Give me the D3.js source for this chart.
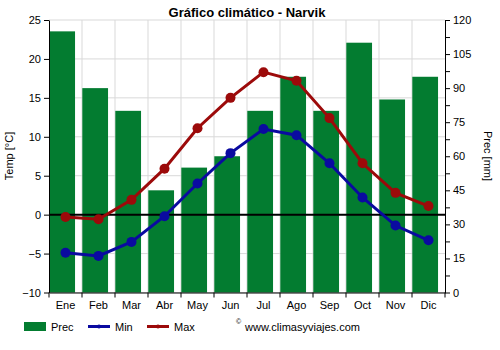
<!DOCTYPE html>
<html><head><meta charset="utf-8">
<script src="https://cdn.jsdelivr.net/npm/d3@7"></script>
<style>body{margin:0;background:#fff;font-family:"Liberation Sans",Arial,sans-serif;}</style>
</head><body><svg id="c" width="500" height="350"></svg>
<script>
const months = ["Ene","Feb","Mar","Abr","May","Jun","Jul","Ago","Sep","Oct","Nov","Dic"];
const prec = [115,90,80,45,55,60,80,95,80,110,85,95];
const tmin = [-4.9,-5.3,-3.5,-0.2,4.0,7.9,11.0,10.2,6.6,2.2,-1.4,-3.3];
const tmax = [-0.3,-0.6,1.9,5.9,11.1,15.0,18.3,17.2,12.4,6.6,2.8,1.1];
const tempTicks = [-10,-5,0,5,10,15,20,25];
const precTicks = [0,15,30,45,60,75,90,105,120];

const svg = d3.select("#c");
const L=49, R=445, T=20, B=292.5;
const x = d3.scaleBand().domain(months).range([L,R]).paddingInner(0.2).paddingOuter(0.1);
const xb = d3.scaleBand().domain(months).range([L,R]);
const yT = d3.scaleLinear().domain([-10,25]).range([B,T]);
const yP = d3.scaleLinear().domain([0,120]).range([B,T]);

// grid
const g = svg.append("g");
g.selectAll(".hg").data(tempTicks).join("line")
  .attr("x1",L).attr("x2",R).attr("y1",d=>yT(d)).attr("y2",d=>yT(d))
  .attr("stroke","#d9d9d9").attr("stroke-width",1);
g.selectAll(".vg").data(months.slice(1)).join("line")
  .attr("x1",d=>xb(d)).attr("x2",d=>xb(d)).attr("y1",T).attr("y2",B)
  .attr("stroke","#d9d9d9").attr("stroke-width",1);

// bars
svg.append("g").selectAll("rect").data(prec).join("rect")
  .attr("x",(d,i)=>xb(months[i])+xb.bandwidth()*0.0+0.3)
  .attr("width",xb.bandwidth()*0.78)
  .attr("y",d=>yP(d)).attr("height",d=>B-yP(d))
  .attr("fill","#037c30");

// zero line
svg.append("line").attr("x1",L).attr("x2",R).attr("y1",yT(0)).attr("y2",yT(0))
  .attr("stroke","#000").attr("stroke-width",2);

// lines
const cx = m => xb(m)+xb.bandwidth()/2;
function series(data,color){
  const line = d3.line().x((d,i)=>cx(months[i])).y(d=>yT(d));
  svg.append("path").datum(data).attr("d",line).attr("fill","none")
    .attr("stroke",color).attr("stroke-width",3);
  svg.append("g").selectAll("circle").data(data).join("circle")
    .attr("cx",(d,i)=>cx(months[i])).attr("cy",d=>yT(d)).attr("r",5).attr("fill",color);
}
series(tmin,"#0a0aa0");
series(tmax,"#9c0a0a");

// axes
const fs = "11px";
const ax = svg.append("g").attr("transform",`translate(${L},0)`)
  .call(d3.axisLeft(yT).tickValues(tempTicks).tickSize(5).tickSizeOuter(0));
const ar = svg.append("g").attr("transform",`translate(${R},0)`)
  .call(d3.axisRight(yP).tickValues(d3.range(0,121,7.5)).tickSize(5).tickSizeOuter(0)
    .tickFormat(d=>precTicks.includes(d)?d:""));
const axb = svg.append("g").attr("transform",`translate(0,${B})`)
  .call(d3.axisBottom(xb).tickSize(0).tickSizeOuter(0));
axb.selectAll("text").attr("dy","1.2em");
svg.append("g").attr("transform",`translate(0,${B})`).selectAll("line")
  .data(months.concat(["end"])).join("line")
  .attr("x1",(d,i)=>L+i*xb.step()).attr("x2",(d,i)=>L+i*xb.step())
  .attr("y1",0).attr("y2",5).attr("stroke","#000");
[ax,ar,axb].forEach(a=>{
  a.selectAll("text").attr("font-size",fs).attr("font-family","Liberation Sans, Arial, sans-serif").attr("fill","#000");
  a.selectAll("path,line").attr("stroke","#000");
});

// titles
svg.append("text").attr("x",247).attr("y",17).attr("text-anchor","middle")
  .attr("font-size","13px").attr("font-weight","bold").text("Gráfico climático - Narvik");
svg.append("text").attr("transform","translate(13,156) rotate(-90)").attr("text-anchor","middle")
  .attr("font-size","11px").text("Temp [°C]");
svg.append("text").attr("transform","translate(484,156) rotate(90)").attr("text-anchor","middle")
  .attr("font-size","11px").text("Prec [mm]");

// legend
const lg = svg.append("g").attr("font-size","11px");
lg.append("rect").attr("x",24).attr("y",322).attr("width",22).attr("height",9).attr("fill","#037c30");
lg.append("text").attr("x",51).attr("y",331).text("Prec");
lg.append("line").attr("x1",88).attr("x2",110).attr("y1",326.5).attr("y2",326.5).attr("stroke","#0a0aa0").attr("stroke-width",3);
lg.append("circle").attr("cx",99).attr("cy",326.5).attr("r",2).attr("fill","#0a0aa0");
lg.append("text").attr("x",115).attr("y",331).text("Min");
lg.append("line").attr("x1",147).attr("x2",169).attr("y1",326.5).attr("y2",326.5).attr("stroke","#9c0a0a").attr("stroke-width",3);
lg.append("circle").attr("cx",158).attr("cy",326.5).attr("r",2).attr("fill","#9c0a0a");
lg.append("text").attr("x",174).attr("y",331).text("Max");
lg.append("text").attr("x",236).attr("y",324).attr("font-size","7px").text("©");
lg.append("text").attr("x",245).attr("y",331).text("www.climasyviajes.com");
</script></body></html>
